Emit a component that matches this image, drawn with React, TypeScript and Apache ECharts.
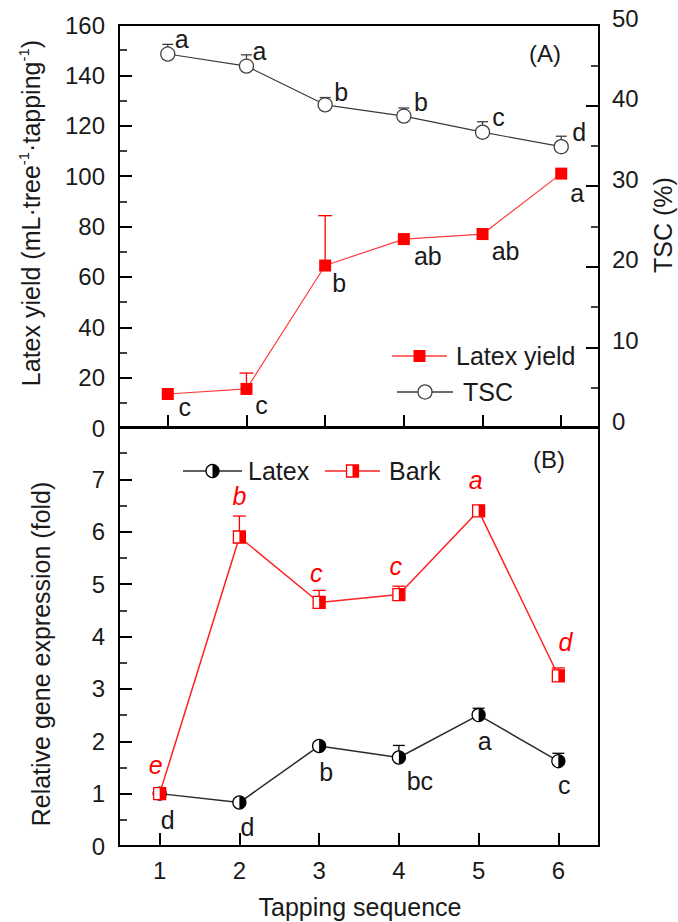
import React, { useEffect, useRef } from 'react';
import * as echarts from 'echarts';

// ---------- data ----------
const tappingSeq = [1, 2, 3, 4, 5, 6];

// Panel A
const latexYield = [13.5, 15.5, 64.5, 75, 77, 101];
const latexYieldErr = [0, 6.3, 19.8, 0, 0, 0];
const latexYieldLetters = ['c', 'c', 'b', 'ab', 'ab', 'a'];
const tsc = [46.4, 44.9, 40.1, 38.7, 36.7, 34.9];
const tscErr = [1.2, 1.4, 0.9, 1.0, 1.3, 1.3];
const tscLetters = ['a', 'a', 'b', 'b', 'c', 'd'];

// Panel B
const latexExpr = [1.0, 0.83, 1.91, 1.69, 2.5, 1.62];
const latexExprErr = [0, 0, 0, 0.23, 0.13, 0.15];
const latexExprLetters = ['d', 'd', 'b', 'bc', 'a', 'c'];
const barkExpr = [1.0, 5.9, 4.65, 4.8, 6.4, 3.25];
const barkExprErr = [0, 0.4, 0.23, 0.16, 0, 0.15];
const barkExprLetters = ['e', 'b', 'c', 'c', 'a', 'd'];

// ---------- layout (label offsets from markers, px) ----------
const tscLabelOff = [[14, -15], [13, -15], [16, -13], [17, -14], [16, -15], [18, -15]];
const yieldLabelOff = [[17, 13], [15, 16], [14, 17], [24, 17], [23, 17], [16, 19]];
const latexLabelOff = [[8, 26], [8, 24], [7, 26], [21, 24], [6, 26], [6, 24]];
const barkLabelOff = [[-4, -29], [0, -41], [-3, -29], [-3, -29], [-3, -31], [7, -34]];

const FONT = '"Liberation Sans", Arial, sans-serif';
const TXT = '#1a1a1a';
const RED = '#ff0000';

type Kind = 'rect' | 'circle' | 'halfCircle' | 'halfRect';

function markerEls(kind: Kind, cx: number, cy: number, color: string): any[] {
  if (kind === 'rect') {
    return [{ type: 'rect', shape: { x: cx - 6, y: cy - 6, width: 12, height: 12 }, style: { fill: color } }];
  }
  if (kind === 'circle') {
    return [{ type: 'circle', shape: { cx, cy, r: 7 }, style: { fill: '#fff', stroke: color, lineWidth: 1.3 } }];
  }
  if (kind === 'halfCircle') {
    return [
      { type: 'circle', shape: { cx, cy, r: 6.5 }, style: { fill: '#fff', stroke: color, lineWidth: 1.3 } },
      {
        type: 'sector',
        shape: { cx, cy, r: 6.5, r0: 0, startAngle: -Math.PI / 2, endAngle: Math.PI / 2, clockwise: true },
        style: { fill: color },
      },
    ];
  }
  return [
    { type: 'rect', shape: { x: cx - 6, y: cy - 6, width: 12, height: 12 }, style: { fill: '#fff', stroke: color, lineWidth: 1.3 } },
    { type: 'rect', shape: { x: cx, y: cy - 6, width: 6, height: 12 }, style: { fill: color } },
  ];
}

function lineSeries(xi: number, yi: number, values: number[], color: string, width: number) {
  return {
    type: 'line',
    xAxisIndex: xi,
    yAxisIndex: yi,
    data: tappingSeq.map((x, i) => [x, values[i]]),
    symbol: 'none',
    lineStyle: { color, width },
    z: 2,
    silent: true,
  };
}

function markSeries(
  xi: number,
  yi: number,
  values: number[],
  errs: number[],
  letters: string[],
  offsets: number[][],
  kind: Kind,
  color: string,
  labelColor: string,
  italic: boolean,
  capW: number
) {
  return {
    type: 'custom',
    coordinateSystem: 'cartesian2d',
    xAxisIndex: xi,
    yAxisIndex: yi,
    z: 5,
    clip: false,
    silent: true,
    data: tappingSeq.map((x, i) => [x, values[i], errs[i]]),
    renderItem: (params: any, api: any) => {
      const i = params.dataIndex;
      const x = api.value(0);
      const y = api.value(1);
      const e = api.value(2);
      const p = api.coord([x, y]);
      const children: any[] = [];
      if (e > 0) {
        const t = api.coord([x, y + e]);
        children.push({ type: 'line', shape: { x1: p[0], y1: p[1], x2: t[0], y2: t[1] }, style: { stroke: color, lineWidth: 1.3 } });
        children.push({
          type: 'line',
          shape: { x1: t[0] - capW / 2, y1: t[1], x2: t[0] + capW / 2, y2: t[1] },
          style: { stroke: color, lineWidth: 1.3 },
        });
      }
      children.push(...markerEls(kind, p[0], p[1], color));
      const off = offsets[i];
      children.push({
        type: 'text',
        x: p[0] + off[0],
        y: p[1] + off[1],
        style: {
          text: letters[i],
          fill: labelColor,
          fontSize: 25,
          fontFamily: FONT,
          fontStyle: italic ? 'italic' : 'normal',
          align: 'center',
          verticalAlign: 'middle',
        },
      });
      return { type: 'group', children };
    },
  };
}

function legendItem(x0: number, x1: number, y: number, kind: Kind, color: string, lineColor: string, text: string, tx: number) {
  const mx = (x0 + x1) / 2;
  return {
    type: 'group',
    children: [
      { type: 'line', shape: { x1: x0, y1: y, x2: x1, y2: y }, style: { stroke: lineColor, lineWidth: 1.3 } },
      ...markerEls(kind, mx, y, color),
      { type: 'text', x: tx, y, style: { text, fill: TXT, fontSize: 25, fontFamily: FONT, align: 'left', verticalAlign: 'middle' } },
    ],
  };
}

const tickStyle = { color: '#000', width: 2 };

function yAxisBase(gridIndex: number, min: number, max: number, interval: number, position: string) {
  return {
    type: 'value',
    gridIndex,
    min,
    max,
    interval,
    position,
    axisLine: { show: false },
    axisTick: { show: true, inside: true, length: 13, lineStyle: tickStyle },
    minorTick: { show: true, splitNumber: 2, length: 8, lineStyle: { color: '#000', width: 1.5 } },
    splitLine: { show: false },
    axisLabel: { show: true, fontSize: 24, fontFamily: FONT, color: TXT, margin: 14 },
  };
}

export default function App() {
  const ref = useRef<HTMLDivElement>(null);

  useEffect(() => {
    if (!ref.current) return;
    const chart = echarts.init(ref.current, undefined, { renderer: 'svg' });

    const yLeftA: any = yAxisBase(0, 0, 160, 20, 'left');
    const yRightA: any = yAxisBase(0, 0, 50, 10, 'right');
    yRightA.axisLabel = { ...yRightA.axisLabel, margin: 13, verticalAlign: 'bottom', lineHeight: 14 };
    const yLeftB: any = yAxisBase(1, 0, 8, 1, 'left');
    yLeftB.axisLabel = { ...yLeftB.axisLabel, formatter: (v: number) => (v === 8 ? '' : String(v)) };

    const option: any = {
      animation: false,
      backgroundColor: '#fff',
      grid: [
        { left: 119, top: 25, width: 480, height: 403, show: true, borderColor: '#000', borderWidth: 2, backgroundColor: 'transparent' },
        { left: 119, top: 427, width: 480, height: 419, show: true, borderColor: '#000', borderWidth: 2, backgroundColor: 'transparent' },
      ],
      xAxis: [
        {
          type: 'value',
          gridIndex: 0,
          min: 0.38,
          max: 6.48,
          splitNumber: 6,
          axisLine: { show: false },
          axisTick: { show: true, inside: true, length: 13, lineStyle: tickStyle },
          axisLabel: { show: false },
          splitLine: { show: false },
        },
        {
          type: 'value',
          gridIndex: 1,
          min: 0.49,
          max: 6.51,
          splitNumber: 6,
          axisLine: { show: false },
          axisTick: { show: true, inside: true, length: 13, lineStyle: tickStyle },
          axisLabel: {
            show: true,
            fontSize: 24,
            fontFamily: FONT,
            color: TXT,
            margin: 12,
            formatter: (v: number) => (Number.isInteger(v) ? String(v) : ''),
          },
          splitLine: { show: false },
        },
      ],
      yAxis: [yLeftA, yRightA, yLeftB],
      series: [
        lineSeries(0, 0, latexYield, '#ff3b3b', 1.2),
        lineSeries(0, 1, tsc, '#3a3a3a', 1.2),
        lineSeries(1, 2, latexExpr, '#2a2a2a', 1.5),
        lineSeries(1, 2, barkExpr, '#ff2020', 1.5),
        markSeries(0, 1, tsc, tscErr, tscLetters, tscLabelOff, 'circle', '#404040', TXT, false, 11),
        markSeries(0, 0, latexYield, latexYieldErr, latexYieldLetters, yieldLabelOff, 'rect', RED, TXT, false, 14),
        markSeries(1, 2, latexExpr, latexExprErr, latexExprLetters, latexLabelOff, 'halfCircle', '#000', TXT, false, 12),
        markSeries(1, 2, barkExpr, barkExprErr, barkExprLetters, barkLabelOff, 'halfRect', RED, RED, true, 13),
      ],
      graphic: [
        {
          type: 'text',
          x: 31,
          y: 213,
          rotation: Math.PI / 2,
          style: {
            text: '{n|Latex yield (mL·tree}{s|-1}{n|·tapping}{s|-1}{n|)}',
            align: 'center',
            verticalAlign: 'middle',
            fill: TXT,
            fontFamily: FONT,
            rich: {
              n: { fontSize: 25, fontFamily: FONT, fill: TXT, lineHeight: 30 },
              s: { fontSize: 15, fontFamily: FONT, fill: TXT, verticalAlign: 'top', lineHeight: 30, padding: [0, 0, 12, 0] },
            },
          },
        },
        {
          type: 'text',
          x: 663,
          y: 225,
          rotation: Math.PI / 2,
          style: { text: 'TSC (%)', align: 'center', verticalAlign: 'middle', fill: TXT, fontSize: 25, fontFamily: FONT },
        },
        {
          type: 'text',
          x: 41,
          y: 654,
          rotation: Math.PI / 2,
          style: { text: 'Relative gene expression (fold)', align: 'center', verticalAlign: 'middle', fill: TXT, fontSize: 25, fontFamily: FONT },
        },
        {
          type: 'text',
          x: 360,
          y: 907,
          style: { text: 'Tapping sequence', align: 'center', verticalAlign: 'middle', fill: TXT, fontSize: 25, fontFamily: FONT },
        },
        {
          type: 'text',
          x: 545,
          y: 53,
          style: { text: '(A)', align: 'center', verticalAlign: 'middle', fill: TXT, fontSize: 24, fontFamily: FONT },
        },
        {
          type: 'text',
          x: 549,
          y: 459,
          style: { text: '(B)', align: 'center', verticalAlign: 'middle', fill: TXT, fontSize: 24, fontFamily: FONT },
        },
        legendItem(392, 447, 356, 'rect', RED, '#ff3b3b', 'Latex yield', 456),
        legendItem(397, 453, 392, 'circle', '#404040', '#3a3a3a', 'TSC', 463),
        legendItem(183, 242, 471, 'halfCircle', '#000', '#2a2a2a', 'Latex', 248),
        legendItem(325, 380, 471, 'halfRect', RED, '#ff2020', 'Bark', 389),
      ],
    };

    chart.setOption(option);
    return () => chart.dispose();
  }, []);

  return (
    <div
      ref={ref}
      style={{ position: 'fixed', left: 0, top: 0, width: 678, height: 922, background: '#fff' }}
    />
  );
}
